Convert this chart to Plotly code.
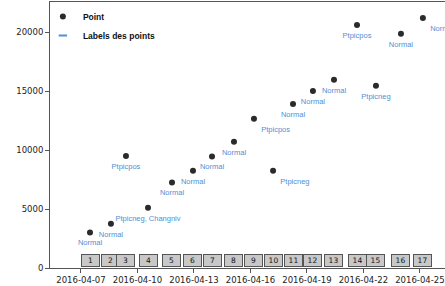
import plotly.graph_objects as go

dates = [
    "2016-04-07 11:30", "2016-04-08 14:10", "2016-04-09 09:20", "2016-04-10 13:25",
    "2016-04-11 20:00", "2016-04-12 22:45", "2016-04-13 23:00", "2016-04-15 03:00",
    "2016-04-16 04:30", "2016-04-17 04:50", "2016-04-18 06:15", "2016-04-19 07:40",
    "2016-04-20 10:30", "2016-04-21 15:50", "2016-04-22 16:00", "2016-04-23 23:50",
    "2016-04-25 03:50",
]
values = [3000, 3750, 9500, 5100, 7250, 8250, 9450, 10700, 12650, 8250,
          13900, 15000, 15950, 20600, 15450, 19850, 21200]
labels = ["Normal", "Normal", "Ptpicpos", "Ptpicneg, Changniv", "Normal", "Normal",
          "Normal", "Normal", "Ptpicpos", "Ptpicneg", "Normal", "Normal", "Normal",
          "Ptpicpos", "Ptpicneg", "Normal", "Normal"]
ids = [str(i) for i in range(1, 18)]
y_ticks = [0, 5000, 10000, 15000, 20000]

label_pos = ["bottom center"] * len(labels)
for i in (8, 9, 16):
    label_pos[i] = "bottom right"

LABEL_BLUE = "#4f8fd6"

fig = go.Figure()
fig.add_trace(go.Scatter(
    x=dates, y=values, mode="markers", name="Point",
    marker=dict(color="#2b2b2b", size=6),
))
fig.add_trace(go.Scatter(
    x=dates, y=values, mode="markers+text", text=labels, textposition=label_pos,
    marker=dict(size=10, color="rgba(0,0,0,0)"),
    textfont=dict(family="Liberation Sans, Arial", size=7.5, color=LABEL_BLUE),
    showlegend=False, cliponaxis=False, hoverinfo="skip",
))
fig.add_trace(go.Scatter(
    x=[None], y=[None], mode="markers", name="Labels des points",
    marker=dict(symbol="line-ew", size=6, line=dict(color=LABEL_BLUE, width=2)),
))

for d, t in zip(dates, ids):
    fig.add_annotation(
        x=d, y=0, xref="x", yref="y", text=t, showarrow=False,
        yanchor="bottom", yshift=1, width=15, height=9, borderpad=1,
        bgcolor="#c8c8c8", bordercolor="#555555", borderwidth=1,
        font=dict(family="DejaVu Sans", size=7.5, color="#111111"),
    )

axis_font = dict(family="DejaVu Sans", size=8.5, color="#222222")
fig.update_layout(
    width=445, height=286,
    margin=dict(l=50, r=0, t=2, b=18),
    paper_bgcolor="white", plot_bgcolor="white",
    showlegend=True,
    legend=dict(
        x=-0.018, y=1.0, xanchor="left", yanchor="top",
        bgcolor="rgba(0,0,0,0)", itemwidth=30,
        font=dict(family="Liberation Sans, Arial", size=8.5, color="#111111", weight="bold"),
    ),
    xaxis=dict(
        range=["2016-04-05 08:30", "2016-04-26 08:00"],
        tick0="2016-04-07", dtick=3 * 86400000, tickformat="%Y-%m-%d",
        showgrid=False, zeroline=False, showline=True, linecolor="#555555",
        linewidth=1, mirror=True, ticks="outside", ticklen=4, tickcolor="#555555",
        tickfont=axis_font,
    ),
    yaxis=dict(
        range=[0, 22550], tickvals=y_ticks, tickformat="d",
        showgrid=False, zeroline=False, showline=True, linecolor="#555555",
        linewidth=1, ticks="outside", ticklen=4, tickcolor="#555555",
        tickfont=axis_font,
    ),
)

fig.write_html(
    "out.html",
    config={"displayModeBar": False},
    post_script="document.body.style.margin='0px';document.body.style.padding='0px';",
)
